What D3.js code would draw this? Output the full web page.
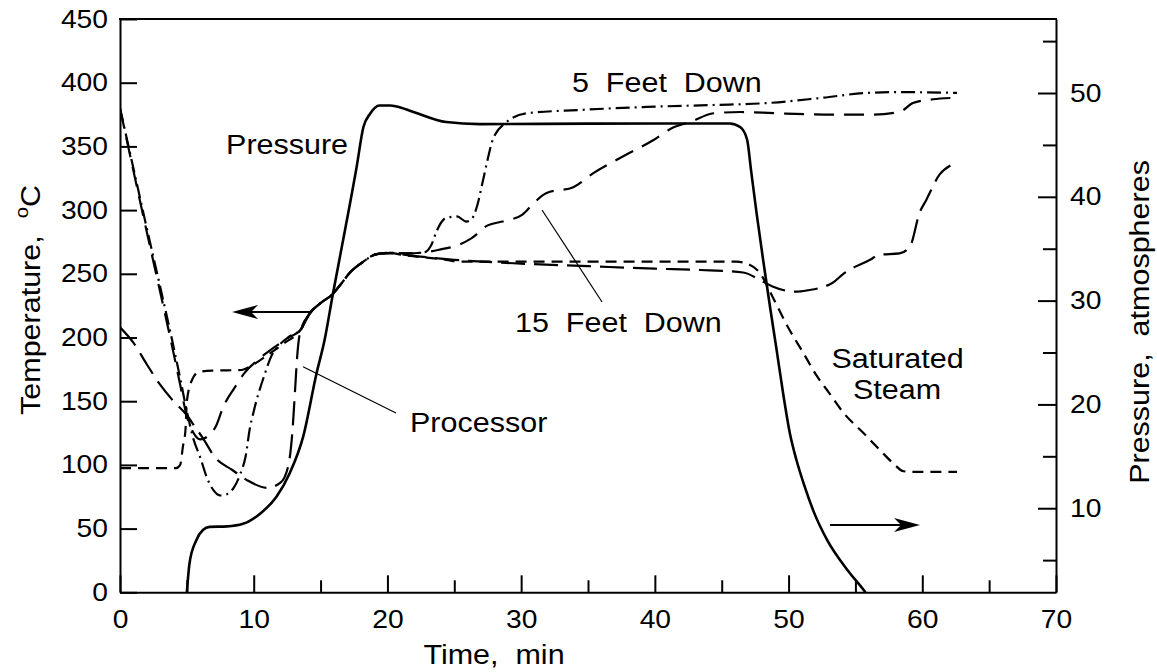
<!DOCTYPE html>
<html><head><meta charset="utf-8">
<script src="https://cdn.jsdelivr.net/npm/d3@7"></script>
<style>
html,body{margin:0;padding:0;background:#fff;}
svg{display:block;}
text{font-family:"Liberation Sans",Arial,Helvetica,sans-serif;fill:#000;white-space:pre;}
</style></head><body>
<svg id="chart" width="1157" height="672"></svg>
<script>
// ---------- data ----------
const timeMajorTicks = [0, 10, 20, 30, 40, 50, 60, 70];
const timeMinorTicks = [5, 15, 25, 35, 45, 55, 65];
const tempTicks = [0, 50, 100, 150, 200, 250, 300, 350, 400, 450];
const pressureMajorTicks = [10, 20, 30, 40, 50];
const pressureMinorTicks = [5, 15, 25, 35, 45, 55];

// [time min, pressure atm]
const pressure = [[5.0,1.9],[5.2,4.7],[5.7,6.9],[6.2,7.9],[6.7,8.2],[8.0,8.25],[9.2,8.5],[10.5,9.5],[11.7,11.1],[12.7,13.4],[13.7,16.9],[14.7,23.0],[15.3,26.2],[15.9,30.5],[16.8,36.6],[17.7,42.9],[18.2,46.7],[18.7,48.0],[19.4,48.8],[20.2,48.8],[20.7,48.7],[21.9,48.2],[24.4,47.2],[26.9,47.0],[35,47.05],[45.6,47.07],[46.4,46.7],[46.9,45.5],[47.2,42.5],[47.6,38.5],[48.1,33.9],[48.6,29.5],[49.1,25.3],[49.6,21.0],[50.1,17.2],[50.6,14.6],[51.2,12.1],[51.9,9.6],[52.9,6.9],[54.4,4.05],[55.6,2.15],[55.75,1.9]];

// [time min, temperature °C]
const processor = [[0,208],[1,196],[2,179],[3,163],[4,150],[5,139],[5.6,130],[6.2,121],[7.1,106],[8.4,96],[9.5,88],[11,82],[12,86],[12.6,100],[12.9,127],[13.1,160],[13.25,185],[13.45,203],[14.2,219],[15.0,227],[15.9,234],[16.6,243],[17.2,251],[18.2,259.5],[19.2,265.5],[20.2,266],[22,264],[25,261],[30,258],[35,256],[40,254],[43.4,253],[46.6,251],[47.9,245],[48.8,240],[50.6,236],[51.4,237],[53.3,243],[54.1,250],[56.1,261],[56.8,265],[58.3,266],[59.1,272],[59.8,298],[60.3,308],[61.3,328],[62.1,335]];

const fiveFeetDown = [[0,380],[1,333],[2,286],[3,240],[4,193],[4.5,168],[5,142],[5.5,120],[6,106],[6.5,90],[7,80],[7.5,76],[8,77],[8.5,82],[9,93],[9.4,107],[9.7,128],[10,142],[10.85,172],[11.3,185],[12,195],[12.7,201],[13.5,206],[14.2,219],[15.0,227],[15.9,234],[16.6,243],[17.2,251],[18.2,259.5],[19.2,265.5],[20.2,266.5],[21.5,266],[22.8,267],[23.3,273],[23.7,284],[24.4,294],[25.2,295],[25.9,291],[26.3,293],[26.7,303],[27.1,321],[27.5,340],[27.9,356],[28.9,369],[30.4,376],[34.4,378.6],[39.4,381],[44.4,382.5],[48.4,384],[52.4,388],[55.9,392],[58.3,392.6],[62.6,392]];

const fifteenFeetDown = [[0,380],[1,331],[2,283],[3,236],[4,188],[4.5,163],[5,138],[5.5,125],[6,120],[6.5,122],[7.2,131],[7.7,145],[8.6,161],[9.3,172],[10.5,184],[11.5,192],[12.6,200],[13.5,206],[14.2,219],[15.0,227],[15.9,234],[16.6,243],[17.2,251],[18.2,259.5],[19.2,265.5],[20.2,266.5],[21.5,266],[22.9,267],[23.9,269],[25.4,273],[26.3,278],[27.5,288],[28.6,291],[30.1,296.5],[30.8,304],[31.9,313.5],[33.9,318],[35.4,329],[37.6,342],[39.9,355],[41.4,365],[42.6,369],[44.4,376],[46.4,377],[49.1,376],[53.3,375],[56.3,375],[58.3,377],[59.3,384],[60.8,387],[62.1,388]];

const saturatedSteam = [[0,97.5],[4.2,97.5],[4.5,100],[4.7,114],[4.9,128],[5.0,150],[5.4,167],[5.9,173],[6.9,174],[9.1,174.5],[10,179],[11,186],[12.2,195],[13.5,206],[14.2,219],[15.0,227],[15.9,234],[16.6,243],[17.2,251],[18.2,259.5],[19.2,265.5],[20.2,266.5],[21,265],[24.4,261],[25.4,259.5],[46.1,259.5],[46.9,258],[47.9,250],[48.8,232],[49.96,208],[51.1,188],[52.1,170],[53,157],[54.1,141],[55.6,125],[56.8,112],[57.8,101.5],[58.6,95],[59.3,94.5],[62.6,94.5]];

// annotation labels: [text, time, temperature, anchor]
const curveLabels = [
  ["Pressure", 7.93, 344, "start"],
  ["5  Feet  Down", 33.8, 392.8, "start"],
  ["15  Feet  Down", 29.54, 204.3, "start"],
  ["Processor", 21.69, 125.8, "start"],
  ["Saturated", 58.15, 176, "middle"],
  ["Steam", 58.11, 151.8, "middle"]
];
// leader lines: [t1, T1, t2, T2]
const leaders = [[13.69,177,20.64,140.8],[31.56,300.1,36.05,227.9]];

const xTitle = "Time,  min";
const yTitle = "Temperature,  ";
const y2Title = "Pressure,  atmospheres";

// ---------- layout ----------
const svg = d3.select("#chart");
const M = {left:120, right:1056, top:19, bottom:592.3};
const SX = 1.13;
const x = d3.scaleLinear().domain([0,70]).range([M.left, M.right]);
const yT = d3.scaleLinear().domain([0,450]).range([M.bottom, M.top]);
const yP = d3.scaleLinear().domain([1.9,57.13]).range([M.bottom, M.top]);

function styleAxis(g, size){
  g.attr("font-family", '"Liberation Sans", Arial, Helvetica, sans-serif').attr("font-size", size);
  g.selectAll("path,line").attr("stroke","#000").attr("stroke-width",2);
}

// bottom axis
const gx = svg.append("g").attr("transform",`translate(0,${M.bottom})`)
  .call(d3.axisBottom(x).tickValues(timeMajorTicks).tickSizeInner(-17).tickSizeOuter(0).tickPadding(18).tickFormat(d3.format("d")));
styleAxis(gx, 25);
gx.selectAll("text").attr("transform",`scale(${SX},1)`).attr("fill","#000");
const gx2 = svg.append("g").attr("transform",`translate(0,${M.bottom})`)
  .call(d3.axisBottom(x).tickValues(timeMinorTicks).tickSizeInner(-12).tickSizeOuter(0).tickFormat(""));
styleAxis(gx2, 25); gx2.select(".domain").remove();

// left axis
const gy = svg.append("g").attr("transform",`translate(${M.left},0)`)
  .call(d3.axisLeft(yT).tickValues(tempTicks).tickSizeInner(-17).tickSizeOuter(0).tickPadding(12).tickFormat(d3.format("d")));
styleAxis(gy, 25);
gy.selectAll("text").attr("x", -12/SX).attr("transform",`scale(${SX},1)`).attr("fill","#000");

// right axis
const gr = svg.append("g").attr("transform",`translate(${M.right},0)`)
  .call(d3.axisRight(yP).tickValues(pressureMajorTicks).tickSizeInner(-18).tickSizeOuter(0).tickPadding(14).tickFormat(d3.format("d")));
styleAxis(gr, 25);
gr.selectAll("text").attr("x", 14/SX).attr("transform",`scale(${SX},1)`).attr("fill","#000");
const gr2 = svg.append("g").attr("transform",`translate(${M.right},0)`)
  .call(d3.axisRight(yP).tickValues(pressureMinorTicks).tickSizeInner(-13).tickSizeOuter(0).tickFormat(""));
styleAxis(gr2, 25); gr2.select(".domain").remove();

// top frame
svg.append("line").attr("x1",x(0)-1).attr("x2",x(70)+1).attr("y1",yT(450)).attr("y2",yT(450))
  .attr("stroke","#000").attr("stroke-width",2);

// clip
svg.append("clipPath").attr("id","plotclip").append("rect")
  .attr("x",M.left).attr("y",M.top).attr("width",M.right-M.left).attr("height",M.bottom-M.top);
const plot = svg.append("g").attr("clip-path","url(#plotclip)");

const lineT = d3.line().x(d=>x(d[0])).y(d=>yT(d[1])).curve(d3.curveMonotoneX);
const lineP = d3.line().x(d=>x(d[0])).y(d=>yP(d[1])).curve(d3.curveMonotoneX);

function drawLine(data, gen, dash, w){
  plot.append("path").datum(data).attr("d", gen).attr("fill","none")
    .attr("stroke","#000").attr("stroke-width", w)
    .attr("stroke-dasharray", dash).attr("stroke-linejoin","round");
}
drawLine(saturatedSteam, lineT, "11,7", 2.2);
drawLine(processor, lineT, "24,9", 2.2);
drawLine(fifteenFeetDown, lineT, "20,10", 2.2);
drawLine(fiveFeetDown, lineT, "14,5,2,5", 2.2);
drawLine(pressure, lineP, null, 2.6);

// leader lines
leaders.forEach(l => {
  svg.append("line").attr("x1",x(l[0])).attr("y1",yT(l[1])).attr("x2",x(l[2])).attr("y2",yT(l[3]))
    .attr("stroke","#000").attr("stroke-width",1.2);
});

// arrows
function arrow(tFrom, tTip, py){
  const x1 = x(tFrom), xt = x(tTip), dir = Math.sign(xt - x1);
  svg.append("line").attr("x1",x1).attr("y1",py).attr("x2",xt - dir*18).attr("y2",py)
    .attr("stroke","#000").attr("stroke-width",2);
  svg.append("path").attr("d",
    `M${xt},${py}L${xt-dir*26},${py-7}L${xt-dir*19},${py}L${xt-dir*26},${py+7}Z`).attr("fill","#000");
}
arrow(14.21, 8.38, yT(220));
arrow(53.1, 59.83, yP(8.38));

// curve labels
function addText(px, py, str, anchor, size, rot){
  return svg.append("text")
    .attr("transform",`translate(${px},${py}) rotate(${rot||0}) scale(${SX},1)`)
    .attr("text-anchor", anchor).attr("font-size", size).text(str);
}
curveLabels.forEach(c => addText(x(c[1]), yT(c[2]), c[0], c[3], 27));

// axis titles
addText(x(27.97), M.bottom + 72, xTitle, "middle", 27);
const yt = addText(40, 300, yTitle, "middle", 27, -90);
yt.append("tspan").attr("font-size",18).attr("dy",-12).text("o");
yt.append("tspan").attr("dy",12).text("C");
addText(1149, 322, y2Title, "middle", 27, -90);
</script>
</body></html>
